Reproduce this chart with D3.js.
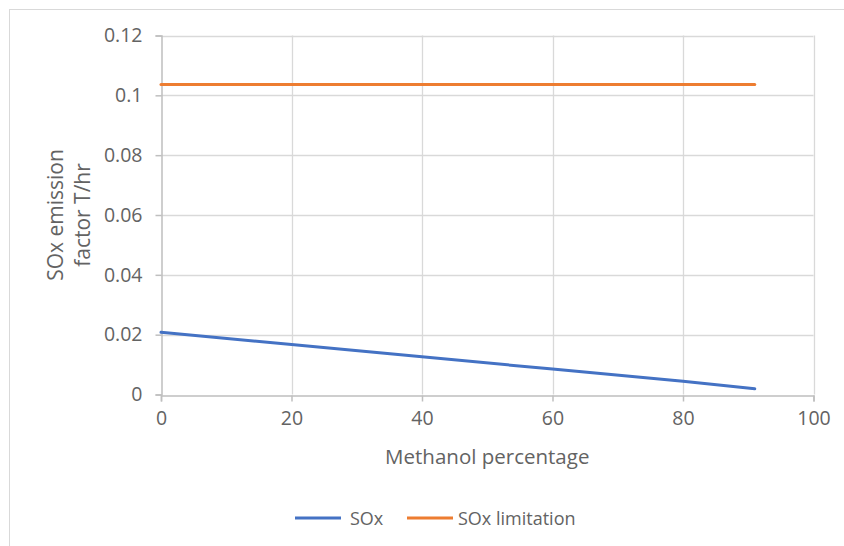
<!DOCTYPE html>
<html>
<head>
<meta charset="utf-8">
<script src="https://cdn.jsdelivr.net/npm/d3@7"></script>
<style>
  body { margin: 0; background: #fff; }
  text { font-family: "Open Sans", sans-serif; fill: #636363; }
</style>
</head>
<body>
<div id="viz"></div>
<script>
// values
var methanol = [0, 20, 40, 60, 80, 91],
    sox = [0.0208, 0.0167, 0.0126, 0.0085, 0.0044, 0.0019],
    soxLimit = [0.1036, 0.1036, 0.1036, 0.1036, 0.1036, 0.1036],
    xTicks = [0, 20, 40, 60, 80, 100],
    yTicks = [0, 0.02, 0.04, 0.06, 0.08, 0.1, 0.12],
    seriesNames = ["SOx", "SOx limitation"],
    seriesColors = ["#4472c4", "#ed7d31"];

var width = 844, height = 546,
    margin = { top: 35.5, right: 30.5, bottom: 151.5, left: 161 };

var svg = d3.select('#viz').append('svg')
    .attr('width', width)
    .attr('height', height);

// chart frame
svg.append('rect')
    .attr('x', 9.5).attr('y', 9.5)
    .attr('width', width).attr('height', height)
    .attr('fill', 'none')
    .attr('stroke', '#d9d9d9');

var xScale = d3.scaleLinear()
    .domain([0, 100])
    .range([margin.left, width - margin.right]);

var yScale = d3.scaleLinear()
    .domain([0, 0.12])
    .range([height - margin.bottom, margin.top]);

// gridlines
svg.append('g')
    .selectAll('line').data(yTicks.slice(1))
    .enter().append('line')
        .attr('x1', xScale(0)).attr('x2', xScale(100))
        .attr('y1', function(d) { return Math.round(yScale(d)) + 0.5; })
        .attr('y2', function(d) { return Math.round(yScale(d)) + 0.5; })
        .attr('stroke', '#d9d9d9').attr('stroke-width', 1.3);

svg.append('g')
    .selectAll('line').data(xTicks.slice(1))
    .enter().append('line')
        .attr('x1', function(d) { return Math.round(xScale(d)) + 0.5; })
        .attr('x2', function(d) { return Math.round(xScale(d)) + 0.5; })
        .attr('y1', yScale(0)).attr('y2', yScale(0.12))
        .attr('stroke', '#d9d9d9').attr('stroke-width', 1.3);

// axes
var xAxis = d3.axisBottom(xScale)
    .tickValues(xTicks)
    .tickSize(6)
    .tickPadding(10)
    .tickFormat(d3.format('d'));

var yAxis = d3.axisLeft(yScale)
    .tickValues(yTicks)
    .tickSize(6)
    .tickPadding(13)
    .tickFormat(function(d) { return d === 0 ? '0' : String(+d.toFixed(2)); });

var gx = svg.append('g')
    .attr('transform', 'translate(0,' + (Math.round(yScale(0)) + 0.5) + ')')
    .call(xAxis);

var gy = svg.append('g')
    .attr('transform', 'translate(' + (Math.round(xScale(0)) + 0.5) + ',0)')
    .call(yAxis);

[gx, gy].forEach(function(g) {
    g.selectAll('.domain').attr('stroke', '#bfbfbf').attr('stroke-width', 1.5);
    g.selectAll('.tick line').attr('stroke', '#bfbfbf').attr('stroke-width', 1.5);
    g.selectAll('.tick text')
        .style('font-family', '"Open Sans", sans-serif')
        .style('font-size', '19.5px')
        .attr('fill', '#636363');
});

// series
var line = d3.line()
    .x(function(d, i) { return xScale(methanol[i]); })
    .y(function(d) { return yScale(d); });

[sox, soxLimit].forEach(function(s, i) {
    svg.append('path')
        .datum(s)
        .attr('d', line)
        .attr('fill', 'none')
        .attr('stroke', seriesColors[i])
        .attr('stroke-width', 3)
        .attr('stroke-linecap', 'round');
});

// axis titles
svg.append('text')
    .attr('x', (xScale(0) + xScale(100)) / 2)
    .attr('y', 464)
    .attr('text-anchor', 'middle')
    .style('font-size', '20.5px')
    .text('Methanol percentage');

var yTitle = svg.append('text')
    .attr('transform', 'translate(0,' + ((yScale(0) + yScale(0.12)) / 2) + ') rotate(-90)')
    .attr('text-anchor', 'middle')
    .style('font-size', '21px');
yTitle.append('tspan').attr('x', 0).attr('y', 63).text('SOx emission');
yTitle.append('tspan').attr('x', 0).attr('y', 90).text('factor T/hr');

// legend
var legendX = [295, 407];
var legend = svg.append('g')
    .selectAll('g').data(seriesNames)
    .enter().append('g')
        .attr('transform', function(d, i) { return 'translate(' + legendX[i] + ',518)'; });

legend.append('line')
    .attr('x1', 0).attr('x2', 46)
    .attr('stroke', function(d, i) { return seriesColors[i]; })
    .attr('stroke-width', 3);

legend.append('text')
    .attr('x', function(d, i) { return i === 0 ? 55 : 51; })
    .attr('y', 6.5)
    .style('font-size', '18px')
    .text(function(d) { return d; });
</script>
</body>
</html>
